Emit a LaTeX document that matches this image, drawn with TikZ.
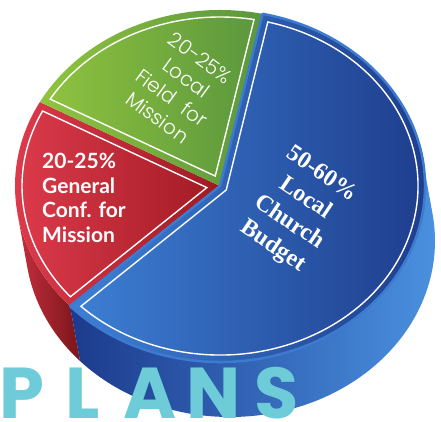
\documentclass[tikz,border=0pt]{standalone}
\usepackage{fontspec}
\newfontfamily\greenfont{Poppins Light}
\newfontfamily\redfont{Lato}
\newfontfamily\bluefont{Liberation Serif}
\newfontfamily\plansfont{Poppins Bold}
\definecolor{redL}{HTML}{E23D4F}
\definecolor{redD}{HTML}{A01A22}
\definecolor{greenL}{HTML}{90C43F}
\definecolor{greenD}{HTML}{5A963D}
\definecolor{blueL}{HTML}{3D80D5}
\definecolor{blueD}{HTML}{1D3A89}
\definecolor{blueRim}{HTML}{3C7BD0}
\definecolor{blueSideD}{HTML}{1C3A8D}
\definecolor{blueSideL}{HTML}{4B92E1}
\definecolor{redSideL}{HTML}{C42F3C}
\definecolor{redSideD}{HTML}{7A151B}
\definecolor{plansC}{HTML}{6DCCD8}
\tikzset{
  inset/.style={draw=white, line width=1.4pt, line join=miter},
  greentext/.style={font=\greenfont\fontsize{20}{24.4}\selectfont, text=white, align=center, inner sep=0pt},
  redtext/.style={font=\redfont\bfseries\fontsize{21}{24.5}\selectfont, text=white, align=left, inner sep=0pt},
  bluetext/.style={font=\bluefont\bfseries\fontsize{24}{29}\selectfont, text=white, align=center, inner sep=0pt},
  plansletter/.style={font=\plansfont\fontsize{72}{72}\selectfont, text=plansC, inner sep=0pt, anchor=base},
}
\begin{document}
\begin{tikzpicture}[x=1pt,y=-1pt]
\useasboundingbox (0,0) rectangle (441,422);
% sides
\shade[left color=redSideL, right color=redSideD]
  ([shift={(220,186)}]137:205 and 176) arc[start angle=137,end angle=171,x radius=205,y radius=176]
  -- ++(10,55) arc[start angle=171,end angle=137,x radius=205,y radius=176] -- cycle;
\shade[left color=blueSideD, right color=blueSideL]
  ([shift={(220,186)}]-9:205 and 176) arc[start angle=-9,end angle=137,x radius=205,y radius=176]
  -- ++(10,55) arc[start angle=137,end angle=-9,x radius=205,y radius=176] -- cycle;
% faces
\shade[left color=redL, right color=redD]
  (220,186) -- ([shift={(220,186)}]137:205 and 176) arc[start angle=137,end angle=208.5,x radius=205,y radius=176] -- cycle;
\shade[left color=greenL, right color=greenD]
  (220,186) -- ([shift={(220,186)}]208.5:205 and 176) arc[start angle=208.5,end angle=282,x radius=205,y radius=176] -- cycle;
\shade[left color=blueL, right color=blueD, draw=blueRim, line width=2.5pt, line join=round]
  (220,186) -- ([shift={(220,186)}]-78:205 and 176) arc[start angle=-78,end angle=137,x radius=205,y radius=176] -- cycle;
% white inset outlines
\draw[inset] (215.25,176.06) -- ([shift={(220,186)}]210.94:198 and 169) arc[start angle=210.94,end angle=279.9,x radius=198,y radius=169] -- cycle;
\draw[inset] (206.83,187.58) -- ([shift={(220,186)}]139.06:198 and 169) arc[start angle=139.06,end angle=206.35,x radius=198,y radius=169] -- cycle;
\draw[inset] (226.23,189.98) -- ([shift={(220,186)}]-76.03:198 and 169) arc[start angle=-76.03,end angle=134.62,x radius=198,y radius=169] -- cycle;
% labels
\node[greentext, rotate=-36] (gtext) at (179,88) {20-25\%\\Local\\Field\hspace{0.3em} for\\Mission};
\node[redtext, anchor=north west] (rtext) at (42,153) {20-25\%\\General\\Conf. for\\Mission};
\node[bluetext, rotate=-34] (btext) at (297,211) {50-60\%\\Local\\Church\\Budget};
% PLANS
\node[plansletter] (p1) at (21.5,418) {P};
\node[plansletter] (p2) at (83,418) {L};
\node[plansletter] (p3) at (150,418) {A};
\node[plansletter] (p4) at (213.5,418) {N};
\node[plansletter] (p5) at (277,418) {S};
\end{tikzpicture}
\end{document}
